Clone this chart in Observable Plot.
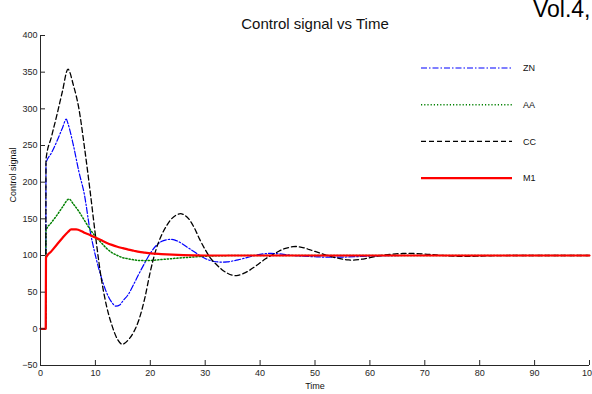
<!DOCTYPE html>
<html><head><meta charset="utf-8">
<script src="https://cdn.jsdelivr.net/npm/d3@7"></script>
<script src="https://cdn.jsdelivr.net/npm/@observablehq/plot@0.6"></script>
<style>
body{margin:0;background:#fff;}
#wrap{position:relative;width:592px;height:394px;overflow:hidden;background:#fff;}
#legend{position:absolute;left:0;top:0;pointer-events:none;}
</style>
</head><body><div id="wrap"></div>
<script>
// ---- data ----
const names = ["ZN", "AA", "CC", "M1"];
const xTicks = [0,10,20,30,40,50,60,70,80,90,100];
const yTicks = [-50,0,50,100,150,200,250,300,350,400];

const ZN_t = [0,0.95,1,2,3,4,4.7,5,6,7,8,9,10,11,12,13,13.7,14.5,15,16,17,18,19,20,21,22,23,23.7,24.5,25,26,27,28,29,30,31,32,33,34,35,36,37,38,39,40,41,42,43,44,45,46,48,50,52,54,56,58,60,63,66,70,100];
const ZN_v = [0,0,226,240,256,274,286,280,250,214,183,135,100,72,50,36,31,33,38,47,61,76,90,103,113,119,121.5,122,121,119.5,115,110,105,100,96,93,91.5,91,91.3,92.5,94,96,98,100,101.5,102.5,103,102.5,102,101,100,99,98.3,97.8,97.7,98,98.6,99.2,99.7,100,100,100];

const AA_t = [0,0.95,1,2,3,4,5.2,6,7,8,9,10,11,12,13,14,15,16,17,18,19,20,22,24,26,28,30,33,36,100];
const AA_v = [0,0,134,145,155,166,177,170,160,148,136,126,118,110,104,100,97,95.5,94,93.2,93,93.2,94.5,95.8,97,98,99,99.7,100,100];

const CC_t = [0,0.95,1,2,3,4,5,6,7,8,9,10,11,12,13,14,14.9,16,17,18,19,20,21,22,23,24,25,25.5,26,27,28,29,30,31,32,33,34,35,35.5,36,37,38,39,40,41,42,43,44,45,46,46.5,47,48,49,50,51,52,53,54,55,56,56.5,57,58,59,60,62,64,66,67.5,70,72,74,76,78,80,83,86,100];
const CC_v = [0,0,231,262,292,324,354,332,300,248,190,128,72,32,5,-14,-21,-15,-4,14,42,78,107,127,141,151,156,157,156,150,138,122,108,96,88,81,76,73,72.5,73,75.5,79.5,84.5,90,95.5,100,104,108,110.5,112,112.3,112,110.5,108,105.5,103,100.5,98.5,96.5,95,94,93.7,93.8,94.5,95.5,97,100,101.8,102.7,102.8,102,100.8,99.7,99,98.8,99.2,99.8,100,100];

const M1_t = [0,0.95,1,2,3,4,5,5.6,6.5,7.5,8,9,10,11,12,13,14,15,16,17,18,19,20,22,24,26,28,30,100];
const M1_v = [0,0,97,106,115,124,132,135.5,135.5,133,131,128,124.5,121,117.5,114.5,112,110,108,106.5,105,104,103,102,101.2,100.6,100.2,100,100];

// ---- styles (kept separate from data) ----
const styles = {
  ZN: {stroke:"#0000ff", dash:"6,2,1.5,2", width:1.2},
  AA: {stroke:"#008000", dash:"1.2,2", width:1.5},
  CC: {stroke:"#000000", dash:"5,3", width:1.3},
  M1: {stroke:"#ff0000", dash:null, width:2.2}
};
const raw = {ZN:[ZN_t,ZN_v], AA:[AA_t,AA_v], CC:[CC_t,CC_v], M1:[M1_t,M1_v]};
const rows = names.map(n => raw[n][0].map((t,i) => ({name:n, t, v:raw[n][1][i]})));

const font = "'Liberation Sans', Arial, sans-serif";
const axisColor = "#262626";

const chart = Plot.plot({
  width: 592, height: 394,
  marginLeft: 40, marginRight: 3, marginTop: 35, marginBottom: 29,
  style: {fontFamily: font, fontSize: "9px", background: "white", color: axisColor},
  x: {domain: [0,100]},
  y: {domain: [-50,400]},
  marks: [
    ...rows.map((r,k) => Plot.line(r, {x:"t", y:"v", curve:"monotone-x",
      stroke: styles[names[k]].stroke, strokeWidth: styles[names[k]].width,
      strokeDasharray: styles[names[k]].dash})),
    Plot.ruleX([0], {stroke: axisColor}),
    Plot.ruleY([-50], {stroke: axisColor}),
    Plot.axisX({ticks: xTicks, tickSize: 5, insetBottom: 5, tickPadding: 4, label: null, stroke: axisColor, fill: axisColor}),
    Plot.axisY({ticks: yTicks, tickSize: 5, insetLeft: 5, tickPadding: 3, label: null, stroke: axisColor, fill: axisColor}),
    Plot.text(["Control signal vs Time"], {frameAnchor:"top", dy:-17, fontSize:15, fill:"#111"}),
    Plot.text(["Time"], {frameAnchor:"bottom", dy:23, fontSize:9, fill:"#111"}),
    Plot.text(["Control signal"], {frameAnchor:"left", dx:-27, dy:2, rotate:-90, fontSize:9, fill:"#111"}),
    Plot.text(["Vol.4,"], {frameAnchor:"top-right", dx:1, dy:-35, textAnchor:"end", fontSize:23, fill:"#000"})
  ]
});
document.getElementById("wrap").appendChild(chart);

// legend overlay
const leg = d3.select("#wrap").append("svg").attr("id","legend").attr("width",592).attr("height",394);
names.forEach((n,i) => {
  const y = 68 + i*36.7;
  leg.append("line").attr("x1",421).attr("x2",512).attr("y1",y).attr("y2",y)
    .attr("stroke",styles[n].stroke).attr("stroke-width",styles[n].width)
    .attr("stroke-dasharray",styles[n].dash);
  leg.append("text").attr("x",523).attr("y",y).attr("dy","0.35em")
    .attr("font-family",font).attr("font-size",9).attr("fill","#111").text(n);
});
</script>
</body></html>
